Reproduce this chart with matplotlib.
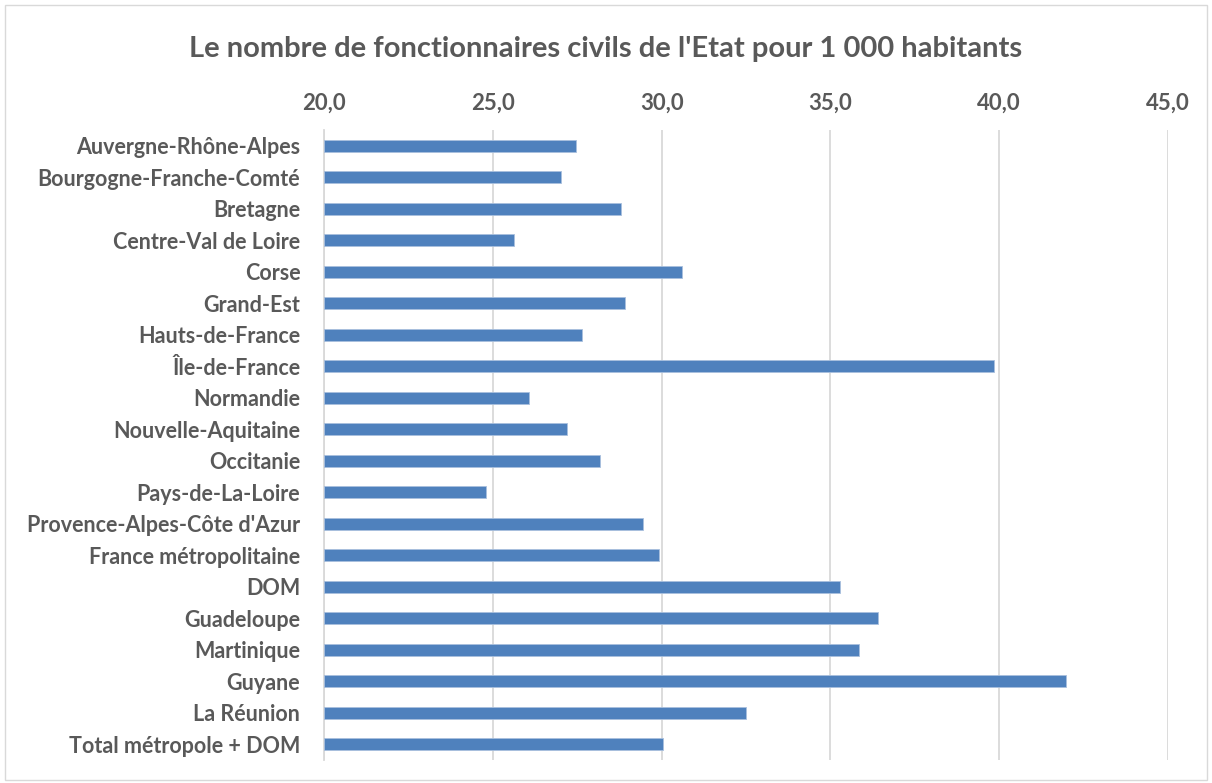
import matplotlib.pyplot as plt
from matplotlib.patches import Rectangle

regions = [
    "Auvergne-Rhône-Alpes", "Bourgogne-Franche-Comté", "Bretagne",
    "Centre-Val de Loire", "Corse", "Grand-Est", "Hauts-de-France",
    "Île-de-France", "Normandie", "Nouvelle-Aquitaine", "Occitanie",
    "Pays-de-La-Loire", "Provence-Alpes-Côte d'Azur", "France métropolitaine",
    "DOM", "Guadeloupe", "Martinique", "Guyane", "La Réunion",
    "Total métropole + DOM",
]
values = [
    27.47, 27.02, 28.81, 25.63, 30.60, 28.91, 27.65, 39.85, 26.07, 27.19,
    28.19, 24.79, 29.46, 29.91, 35.28, 36.41, 35.85, 41.98, 32.49, 30.05,
]
ticks = [20, 25, 30, 35, 40, 45]

text_col = "#595959"
grid_col = "#d9d9d9"
bar_col = "#4f81bd"

plt.rcParams["font.family"] = ["Lato", "DejaVu Sans"]

fig = plt.figure(figsize=(12.12, 7.83), dpi=100)
ax = fig.add_axes([0.2673, 0.0294, 0.9637 - 0.2673, 0.834 - 0.0294])

y = list(range(len(regions)))
ax.barh(y, [v - 20 for v in values], left=20, height=0.37, color=bar_col,
        edgecolor="#a9c0de", linewidth=0.6, zorder=3)

ax.set_xlim(20, 45)
ax.set_ylim(len(regions) - 0.5, -0.5)
ax.set_xticks(ticks)
ax.set_xticklabels([f"{t:.1f}".replace(".", ",") for t in ticks])
ax.xaxis.tick_top()
ax.set_yticks(y)
ax.set_yticklabels(regions)
ax.tick_params(axis="y", length=0, colors=text_col, labelsize=15.5, pad=17)
ax.tick_params(axis="x", length=0, colors=text_col, labelsize=16, pad=12)
for lab in ax.get_xticklabels() + ax.get_yticklabels():
    lab.set_fontweight("bold")

ax.grid(axis="x", color=grid_col, linewidth=1.3, zorder=0)
for s in ["top", "right", "bottom"]:
    ax.spines[s].set_visible(False)
ax.spines["left"].set_color(grid_col)
ax.spines["left"].set_linewidth(1.3)

fig.text(0.5, 0.938, "Le nombre de fonctionnaires civils de l'Etat pour 1 000 habitants",
         ha="center", va="center", fontsize=21, fontweight="bold", color=text_col)

fig.patches.append(Rectangle((0.004, 0.004), 0.992, 0.99, transform=fig.transFigure,
                             fill=False, edgecolor=grid_col, linewidth=1))

fig.savefig("out.png", dpi=100)
